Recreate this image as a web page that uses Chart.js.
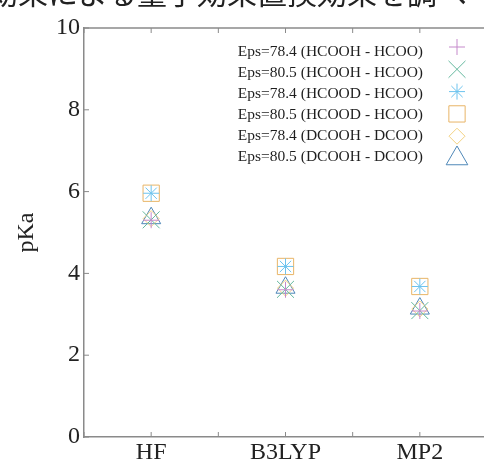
<!DOCTYPE html>
<html>
<head>
<meta charset="utf-8">
<script src="https://cdn.jsdelivr.net/npm/chart.js@4/dist/chart.umd.min.js"></script>
<style>
  html, body { margin: 0; padding: 0; width: 484px; height: 462px; overflow: hidden; background: #fff; }
  #wrap { position: relative; width: 500px; height: 462px; }
  #head { position: absolute; left: -12px; top: -26px; font-family: "Noto Sans CJK JP"; font-size: 30px; line-height: 34px; color: #222; white-space: nowrap; z-index: 2; }
  canvas { position: absolute; left: 0; top: 0; }
</style>
</head>
<body>
<div id="wrap">
  <div id="head">効果による量子効果置換効果を調べ</div>
  <canvas id="chart" width="500" height="462"></canvas>
</div>
<script>
const categories = ['HF', 'B3LYP', 'MP2']
const seriesLabels = [
  'Eps=78.4 (HCOOH - HCOO)',
  'Eps=80.5 (HCOOH - HCOO)',
  'Eps=78.4 (HCOOD - HCOO)',
  'Eps=80.5 (HCOOD - HCOO)',
  'Eps=78.4 (DCOOH - DCOO)',
  'Eps=80.5 (DCOOH - DCOO)',
]
const eps784HCOOH = [5.30, 3.60, 3.08]
const eps805HCOOH = [5.31, 3.61, 3.09]
const eps784HCOOD = [5.96, 4.17, 3.68]
const eps805HCOOD = [5.96, 4.17, 3.68]
const eps784DCOOH = [5.34, 3.64, 3.13]
const eps805DCOOH = [5.35, 3.65, 3.14]
const yTicks = [0, 2, 4, 6, 8, 10]

const seriesValues = [eps784HCOOH, eps805HCOOH, eps784HCOOD, eps805HCOOD, eps784DCOOH, eps805DCOOH]
const styles = [
  { pointStyle: 'cross', radius: 8, color: '#c58acb' },
  { pointStyle: 'crossRot', radius: 12, color: '#64b89e' },
  { pointStyle: 'star', radius: 8, color: '#6cc3ee' },
  { pointStyle: 'rect', radius: 11.5, color: '#e8b567' },
  { pointStyle: 'rectRot', radius: 8, color: '#f3d282' },
  { pointStyle: 'triangle', radius: 11, color: '#4f88b8' },
]

// category i sits at x = 2i + 1 on a 0..6 axis
const catX = i => 2 * i + 1

const datasets = seriesValues.map((vals, k) => ({
  label: seriesLabels[k],
  data: vals.map((v, i) => ({ x: catX(i), y: v })),
  pointStyle: styles[k].pointStyle,
  pointRadius: styles[k].radius,
  pointBorderColor: styles[k].color,
  pointBackgroundColor: 'rgba(0,0,0,0)',
  pointBorderWidth: 1,
  showLine: false,
}))

const serif = 'Liberation Serif'
const axisColor = '#8a8a8a'

const frameTicks = {
  id: 'frameTicks',
  afterDatasetsDraw(chart) {
    const { ctx, chartArea: a, scales } = chart
    ctx.save()
    ctx.strokeStyle = axisColor
    ctx.lineWidth = 1.5
    ctx.beginPath()
    ctx.moveTo(a.left, a.top)
    ctx.lineTo(a.right, a.top)
    ctx.stroke()
    ctx.lineWidth = 1
    ctx.beginPath()
    scales.x.ticks.forEach(t => {
      const px = scales.x.getPixelForValue(t.value)
      ctx.moveTo(px, a.bottom); ctx.lineTo(px, a.bottom - 5)
      ctx.moveTo(px, a.top); ctx.lineTo(px, a.top + 5)
    })
    scales.y.ticks.forEach(t => {
      const py = scales.y.getPixelForValue(t.value)
      ctx.moveTo(a.left, py); ctx.lineTo(a.left + 5, py)
    })
    ctx.stroke()
    ctx.restore()
  }
}

const keyBox = {
  id: 'keyBox',
  afterDraw(chart) {
    const { ctx } = chart
    ctx.save()
    ctx.font = '15.5px "' + serif + '"'
    ctx.textAlign = 'right'
    ctx.textBaseline = 'middle'
    chart.data.datasets.forEach((ds, k) => {
      const ty = 52 + 21 * k
      const my = 47 + 22.3 * k
      ctx.fillStyle = '#1e1e1e'
      ctx.fillText(ds.label, 423, ty)
      ctx.strokeStyle = ds.pointBorderColor
      ctx.fillStyle = 'rgba(0,0,0,0)'
      ctx.lineWidth = 1
      const r = ds.pointStyle === 'triangle' ? 12.5 : ds.pointRadius
      Chart.helpers.drawPoint(ctx, { pointStyle: ds.pointStyle, radius: r, rotation: 0, borderWidth: 1 }, 457, my)
    })
    ctx.restore()
  }
}

new Chart(document.getElementById('chart').getContext('2d'), {
  type: 'scatter',
  data: { datasets },
  options: {
    responsive: false,
    animation: false,
    devicePixelRatio: 1,
    layout: { padding: { top: 28, right: 7, left: 0, bottom: 0 } },
    plugins: { legend: { display: false }, tooltip: { enabled: false } },
    scales: {
      x: {
        type: 'linear',
        min: 0,
        max: 6,
        afterFit: s => { s.height = 25 },
        afterBuildTicks: s => { s.ticks = [0, 1, 2, 3, 4, 5, 6].map(v => ({ value: v })) },
        ticks: {
          autoSkip: false,
          maxRotation: 0,
          padding: 1,
          color: '#222',
          font: { family: serif, size: 24 },
          callback: v => (v % 2 === 1 ? categories[(v - 1) / 2] : ''),
        },
        grid: { display: false, drawTicks: false },
        border: { color: axisColor, width: 1.5 },
      },
      y: {
        min: 0,
        max: 10,
        afterFit: s => { s.width = 84 },
        afterBuildTicks: s => { s.ticks = yTicks.map(v => ({ value: v })) },
        ticks: {
          padding: 4,
          color: '#222',
          font: { family: serif, size: 24 },
        },
        title: {
          display: true,
          text: 'pKa',
          color: '#222',
          font: { family: serif, size: 24 },
          padding: { top: 12, bottom: 0 },
        },
        grid: { display: false, drawTicks: false },
        border: { color: axisColor, width: 1.5 },
      },
    },
  },
  plugins: [frameTicks, keyBox],
})
</script>
</body>
</html>
